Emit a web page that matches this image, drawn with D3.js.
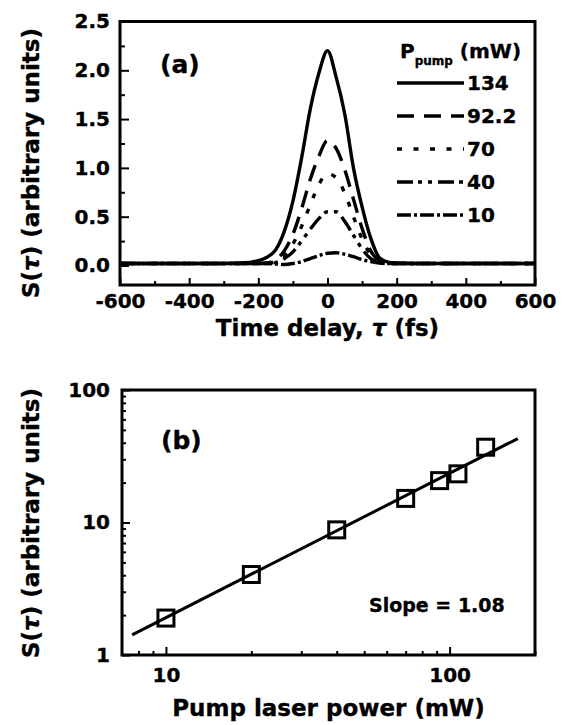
<!DOCTYPE html>
<html><head><meta charset="utf-8">
<script src="https://cdn.jsdelivr.net/npm/d3@7"></script>
<style>html,body{margin:0;padding:0;background:#fff;} svg{display:block} text{stroke:#000;stroke-width:0.35px;}</style>
</head><body>
<svg id="chart" width="566" height="725"></svg>
<script>
// ---------- Panel (a) data ----------
const tau = [-600, -400, -300, -250, -200, -175, -150, -125, -100, -75, -50, -25, 0, 25, 50, 75, 100, 125, 150, 175, 200, 250, 300, 400, 600];
const s134 = [0.02, 0.02, 0.02, 0.025, 0.05, 0.085, 0.16, 0.35, 0.66, 1.1, 1.6, 1.97, 2.2, 1.93, 1.55, 1.0, 0.6, 0.28, 0.08, 0.035, 0.025, 0.02, 0.02, 0.02, 0.02];
const s92 = [0.02, 0.02, 0.02, 0.02, 0.02, 0.025, 0.06, 0.15, 0.32, 0.58, 0.88, 1.12, 1.28, 1.2, 0.98, 0.68, 0.38, 0.15, 0.05, 0.025, 0.02, 0.02, 0.02, 0.02, 0.02];
const s70 = [0.02, 0.02, 0.02, 0.02, 0.02, 0.02, 0.04, 0.1, 0.22, 0.4, 0.62, 0.83, 0.94, 0.9, 0.74, 0.5, 0.27, 0.11, 0.04, 0.02, 0.02, 0.02, 0.02, 0.02, 0.02];
const s40 = [0.02, 0.02, 0.02, 0.02, 0.02, 0.02, 0.03, 0.07, 0.14, 0.25, 0.37, 0.48, 0.55, 0.55, 0.45, 0.31, 0.17, 0.07, 0.03, 0.02, 0.02, 0.02, 0.02, 0.02, 0.02];
const s10 = [0.02, 0.02, 0.02, 0.02, 0.02, 0.02, 0.015, 0.01, 0.02, 0.04, 0.07, 0.1, 0.125, 0.13, 0.115, 0.09, 0.06, 0.04, 0.025, 0.02, 0.02, 0.02, 0.02, 0.02, 0.02];
const legendLabels = ["134", "92.2", "70", "40", "10"];
const xTicksA = [-600, -400, -200, 0, 200, 400, 600];
const yTicksA = [0, 0.5, 1.0, 1.5, 2.0, 2.5];

// ---------- Panel (b) data ----------
const pumpPower = [10, 20, 40, 70, 92.2, 107, 134];
const signal = [1.9, 4.05, 8.8, 15.2, 20.7, 23.3, 37];
const fitPower = [7.6, 174];
const fitSignal = [1.42, 43];
const xTicksB = [10, 100];
const yTicksB = [1, 10, 100];

const FONT = "'DejaVu Sans', sans-serif";
const svg = d3.select("#chart");
svg.append("rect").attr("width", 566).attr("height", 725).attr("fill", "#fff");

function styleAxis(g, size) {
  g.select(".domain").remove();
  g.attr("font-family", FONT).attr("font-size", size).attr("font-weight", "bold");
  g.selectAll("line").attr("stroke", "#000").attr("stroke-width", 2);
  g.selectAll("text").attr("fill", "#000");
}

// ================= Panel (a) =================
const A = {l: 120, r: 535, t: 21.5, b: 285};
const xA = d3.scaleLinear().domain([-600, 600]).range([A.l, A.r]);
const yA = d3.scaleLinear().domain([-0.2, 2.5]).range([A.b, A.t]);

svg.append("g").attr("transform", `translate(0,${A.b})`)
  .call(d3.axisBottom(xA).tickValues(d3.range(-500, 600, 200)).tickSize(-4).tickFormat(""))
  .call(g => styleAxis(g, 20));
svg.append("g").attr("transform", `translate(${A.l},0)`)
  .call(d3.axisLeft(yA).tickValues(d3.range(0.25, 2.5, 0.5)).tickSize(-5).tickFormat(""))
  .call(g => styleAxis(g, 20));
svg.append("g").attr("transform", `translate(0,${A.b})`)
  .call(d3.axisBottom(xA).tickValues(xTicksA).tickSize(-7).tickPadding(9).tickFormat(d => String(d)))
  .call(g => styleAxis(g, 20));
svg.append("g").attr("transform", `translate(${A.l},0)`)
  .call(d3.axisLeft(yA).tickValues(yTicksA).tickSize(-9).tickPadding(10).tickFormat(d3.format(".1f")))
  .call(g => styleAxis(g, 20));

const seriesA = [
  {label: legendLabels[0], values: s134, dash: null},
  {label: legendLabels[1], values: s92, dash: "17,10"},
  {label: legendLabels[2], values: s70, dash: "5,11.5"},
  {label: legendLabels[3], values: s40, dash: "16,5,4,6,4,6"},
  {label: legendLabels[4], values: s10, dash: "14,3,3,3"}
];
const lineA = d3.line().x(d => xA(d[0])).y(d => yA(d[1])).curve(d3.curveMonotoneX);
svg.append("clipPath").attr("id", "clipA").append("rect")
  .attr("x", A.l).attr("y", A.t).attr("width", A.r - A.l).attr("height", A.b - A.t);
seriesA.slice().reverse().forEach(s => {
  svg.append("path")
    .attr("clip-path", "url(#clipA)")
    .attr("d", lineA(tau.map((t, i) => [t, s.values[i]])))
    .attr("fill", "none").attr("stroke", "#000")
    .attr("stroke-width", 3.4)
    .attr("stroke-dasharray", s.dash);
});

svg.append("rect").attr("x", A.l).attr("y", A.t).attr("width", A.r - A.l).attr("height", A.b - A.t)
  .attr("fill", "none").attr("stroke", "#000").attr("stroke-width", 3);

// legend
const leg = svg.append("g").attr("font-family", FONT).attr("font-weight", "bold");
const lt = leg.append("text").attr("x", 400).attr("y", 58).attr("font-size", 20);
lt.append("tspan").text("P");
lt.append("tspan").attr("font-size", 12).attr("dy", 7).text("pump");
lt.append("tspan").attr("dy", -7).text(" (mW)");
seriesA.forEach((s, i) => {
  const y = 83 + i * 33;
  leg.append("line").attr("x1", 397).attr("x2", 464).attr("y1", y).attr("y2", y)
    .attr("stroke", "#000").attr("stroke-width", 3.4).attr("stroke-dasharray", s.dash);
  leg.append("text").attr("x", 467).attr("y", y).attr("dy", "0.36em")
    .attr("font-size", 20).text(s.label);
});

svg.append("text").attr("x", 160).attr("y", 73).attr("font-family", FONT)
  .attr("font-weight", "bold").attr("font-size", 25).text("(a)");

const xtA = svg.append("text").attr("x", (A.l + A.r) / 2).attr("y", 336).attr("text-anchor", "middle")
  .attr("font-family", FONT).attr("font-weight", "bold").attr("font-size", 23);
xtA.append("tspan").text("Time delay, ");
xtA.append("tspan").attr("font-style", "italic").text("τ");
xtA.append("tspan").text(" (fs)");

function yTitle(cx, cy) {
  const t = svg.append("text").attr("transform", `translate(${cx},${cy}) rotate(-90)`)
    .attr("text-anchor", "middle").attr("dy", "0.35em")
    .attr("font-family", FONT).attr("font-weight", "bold").attr("font-size", 23);
  t.append("tspan").text("S(");
  t.append("tspan").attr("font-style", "italic").text("τ");
  t.append("tspan").text(") (arbitrary units)");
}
yTitle(31, 163);

// ================= Panel (b) =================
const B = {l: 122, r: 535, t: 390, b: 655};
const xB = d3.scaleLog().domain([7, 200]).range([B.l, B.r]);
const yB = d3.scaleLog().domain([1, 100]).range([B.b, B.t]);

const minorX = [8, 9, 20, 30, 40, 50, 60, 70, 80, 90, 200];
const minorY = [2, 3, 4, 5, 6, 7, 8, 9, 20, 30, 40, 50, 60, 70, 80, 90];
svg.append("g").attr("transform", `translate(0,${B.b})`)
  .call(d3.axisBottom(xB).tickValues(minorX).tickSize(-4).tickFormat(""))
  .call(g => styleAxis(g, 20));
svg.append("g").attr("transform", `translate(${B.l},0)`)
  .call(d3.axisLeft(yB).tickValues(minorY).tickSize(-4).tickFormat(""))
  .call(g => styleAxis(g, 20));
svg.append("g").attr("transform", `translate(0,${B.b})`)
  .call(d3.axisBottom(xB).tickValues(xTicksB).tickSize(-8).tickPadding(13).tickFormat(d => String(d)))
  .call(g => styleAxis(g, 20));
svg.append("g").attr("transform", `translate(${B.l},0)`)
  .call(d3.axisLeft(yB).tickValues(yTicksB).tickSize(-8).tickPadding(12).tickFormat(d => String(d)))
  .call(g => styleAxis(g, 20));

const lineB = d3.line().x(d => xB(d[0])).y(d => yB(d[1]));
svg.append("path").attr("d", lineB(fitPower.map((p, i) => [p, fitSignal[i]])))
  .attr("fill", "none").attr("stroke", "#000").attr("stroke-width", 3);

const sq = 16;
svg.append("g").selectAll("rect").data(pumpPower.map((p, i) => [p, signal[i]])).join("rect")
  .attr("x", d => xB(d[0]) - sq / 2).attr("y", d => yB(d[1]) - sq / 2)
  .attr("width", sq).attr("height", sq)
  .attr("fill", "none").attr("stroke", "#000").attr("stroke-width", 3);

svg.append("rect").attr("x", B.l).attr("y", B.t).attr("width", B.r - B.l).attr("height", B.b - B.t)
  .attr("fill", "none").attr("stroke", "#000").attr("stroke-width", 3);

svg.append("text").attr("x", 161).attr("y", 449).attr("font-family", FONT)
  .attr("font-weight", "bold").attr("font-size", 25).text("(b)");
svg.append("text").attr("x", 369).attr("y", 612).attr("font-family", FONT)
  .attr("font-weight", "bold").attr("font-size", 19).text("Slope = 1.08");

svg.append("text").attr("x", (B.l + B.r) / 2).attr("y", 716).attr("text-anchor", "middle")
  .attr("font-family", FONT).attr("font-weight", "bold").attr("font-size", 23)
  .text("Pump laser power (mW)");
yTitle(31, 523);
</script>
</body></html>
